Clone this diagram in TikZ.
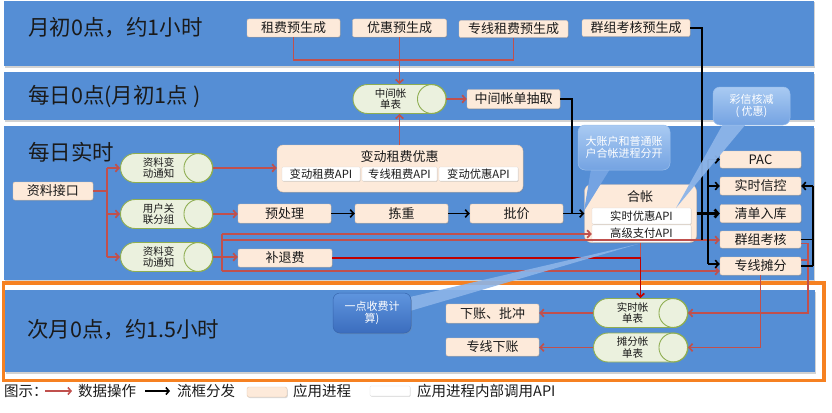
\documentclass[tikz,border=0pt]{standalone}
\usepackage{fontspec}
\setmainfont{Noto Sans CJK SC}
\usetikzlibrary{arrows.meta,shapes.misc,shadows}
\definecolor{bandblue}{HTML}{558ED5}
\definecolor{peach}{HTML}{FDEADA}
\definecolor{peachline}{HTML}{E3C6AC}
\definecolor{capfill}{HTML}{EBF1DE}
\definecolor{capline}{HTML}{8FAE52}
\definecolor{redline}{HTML}{C0504D}
\definecolor{darkred}{HTML}{C00000}
\definecolor{orangeb}{HTML}{F68121}
\definecolor{txt}{HTML}{1A1A1A}
\definecolor{cltop}{HTML}{A9CAF2}
\definecolor{clbot}{HTML}{74A3E2}
\definecolor{clline}{HTML}{9CC0EC}
\definecolor{cdtop}{HTML}{5F95DE}
\definecolor{cdbot}{HTML}{3B6DBE}
\definecolor{cdline}{HTML}{3766AE}
\definecolor{ptr}{HTML}{8CB4E8}
\begin{document}
\begin{tikzpicture}[x=1pt,y=-1pt,
  band/.style={fill=bandblue, draw=none, drop shadow={shadow xshift=1.2pt, shadow yshift=-1.5pt, opacity=0.35}},
  bandtitle/.style={anchor=west, font=\fontsize{21.5}{24}\selectfont, text=txt, inner sep=0pt},
  pbox/.style={rectangle, rounded corners=2pt, fill=peach, draw=peachline, line width=0.4pt, inner sep=0pt,
    font=\fontsize{13}{15}\selectfont, text=txt, drop shadow={shadow xshift=0.8pt, shadow yshift=-1pt, opacity=0.3}},
  wbox/.style={rectangle, rounded corners=1pt, fill=white, draw=black!15, line width=0.3pt, inner sep=0pt,
    font=\fontsize{11.3}{13}\selectfont, text=txt, drop shadow={shadow xshift=0.6pt, shadow yshift=-0.8pt, opacity=0.25}},
  dbcap/.style={rounded rectangle, fill=capfill, draw=capline, line width=0.9pt, minimum height=29pt, minimum width=93pt, inner sep=0pt},
  capend/.style={draw=capline, line width=0.9pt},
  captext/.style={align=center, font=\fontsize{10.5}{11.5}\selectfont, text=txt, inner sep=0pt},
  subtitle/.style={font=\fontsize{13}{15}\selectfont, text=txt, inner sep=0pt},
  rl/.style={draw=redline, line width=1.7pt},
  ra/.style={rl, -{Straight Barb[length=3.5pt,width=7.5pt]}},
  dra/.style={draw=darkred, line width=1.7pt, -{Straight Barb[length=3.5pt,width=7.5pt]}},
  bl/.style={draw=black, line width=1.3pt},
  ba/.style={draw=black, line width=1.6pt, -{Straight Barb[length=3.5pt,width=7.5pt]}},
  callout/.style={rectangle, rounded corners=7pt, top color=cltop, bottom color=clbot, draw=clline, line width=0.5pt,
    text=white, align=center, font=\fontsize{11}{12.5}\selectfont, inner sep=0pt},
  calloutdark/.style={rectangle, rounded corners=7pt, top color=cdtop, bottom color=cdbot, draw=cdline, line width=0.5pt,
    text=white, align=center, font=\fontsize{11}{12.5}\selectfont, inner sep=0pt, drop shadow={shadow xshift=0.8pt, shadow yshift=-1pt, opacity=0.3}},
  legtext/.style={anchor=west, font=\fontsize{14.5}{16}\selectfont, text=txt, inner sep=0pt}
]
\useasboundingbox (0,0) rectangle (832,412);
\fill[white] (0,0) rectangle (832,412);

% bands
\fill[band] (4,1) rectangle (814,66);
\fill[band] (4,72) rectangle (814,120);
\fill[band] (4,126) rectangle (814,280);
\fill[band] (5,290) rectangle (815,372);
\draw[orangeb, line width=3.5pt] (3.5,283) rectangle (824,380.5);

\node[bandtitle] (t1) at (28,28) {月初0点，约1小时};
\node[bandtitle] (t2) at (28,97) {每日0点(月初1点 )};
\node[bandtitle] (t3) at (28,152) {每日实时};
\node[bandtitle] (t4) at (27,330) {次月0点，约1.5小时};

% band 1
\node[pbox, minimum width=93pt, minimum height=18pt] (zf) at (293.5,28) {租费预生成};
\node[pbox, minimum width=94pt, minimum height=18pt] (yh) at (399.5,28) {优惠预生成};
\node[pbox, minimum width=109pt, minimum height=17pt] (zx) at (513.5,29) {专线租费预生成};
\node[pbox, minimum width=108pt, minimum height=17pt] (qz) at (636,28) {群组考核预生成};

% band 2
\node[dbcap] (zj) at (399.5,99) {};
\draw[capend] ([xshift=-14.5pt]zj.east) circle[radius=14.5pt];
\node[captext] (zjt) at ([xshift=-9pt]zj.center) {中间帐\\单表};
\node[pbox, minimum width=93pt, minimum height=19pt] (zq) at (513.5,99) {中间帐单抽取};

% band 3 left
\node[pbox, minimum width=80pt, minimum height=18pt] (zl) at (53,191) {资料接口};
\node[dbcap, minimum width=92pt] (c1) at (166.5,168) {};
\draw[capend] ([xshift=-14.5pt]c1.east) circle[radius=14.5pt];
\node[captext] (c1t) at ([xshift=-8pt]c1.center) {资料变\\动通知};
\node[dbcap, minimum width=92pt] (c2) at (166.5,214) {};
\draw[capend] ([xshift=-14.5pt]c2.east) circle[radius=14.5pt];
\node[captext] (c2t) at ([xshift=-8pt]c2.center) {用户关\\联分组};
\node[dbcap, minimum width=92pt] (c3) at (166.5,257) {};
\draw[capend] ([xshift=-14.5pt]c3.east) circle[radius=14.5pt];
\node[captext] (c3t) at ([xshift=-8pt]c3.center) {资料变\\动通知};

\node[pbox, rounded corners=6pt, minimum width=246pt, minimum height=47pt] (bd) at (400,168.5) {};
\node[subtitle] (bdt) at (399.5,157) {变动租费优惠};
\node[wbox, minimum width=78pt, minimum height=14pt] (a1) at (321,174) {变动租费API};
\node[wbox, minimum width=75pt, minimum height=14pt] (a2) at (399.5,174) {专线租费API};
\node[wbox, minimum width=79pt, minimum height=14pt] (a3) at (478.5,174) {变动优惠API};

\node[pbox, minimum width=93pt, minimum height=19pt] (yc) at (284.5,213.5) {预处理};
\node[pbox, minimum width=93pt, minimum height=19pt] (jz) at (401.5,213.5) {拣重};
\node[pbox, minimum width=93pt, minimum height=19pt] (pj) at (516.5,213.5) {批价};
\node[pbox, minimum width=94pt, minimum height=18pt] (bt) at (285,258) {补退费};

\node[pbox, rounded corners=7pt, minimum width=112pt, minimum height=58pt] (hz) at (640.5,213.5) {};
\node[subtitle] (hzt) at (640,197) {合帐};
\node[wbox, minimum width=99pt, minimum height=16pt] (h1) at (641.5,216) {实时优惠API};
\node[wbox, minimum width=99pt, minimum height=17pt] (h2) at (641.5,233.5) {高级支付API};

% band 3 right
\node[pbox, minimum width=81pt, minimum height=17pt] (pac) at (760.5,159.5) {PAC};
\node[pbox, minimum width=81pt, minimum height=18pt] (sx) at (760.5,186) {实时信控};
\node[pbox, minimum width=81pt, minimum height=18pt] (qd) at (760.5,213.5) {清单入库};
\node[pbox, minimum width=81pt, minimum height=17pt] (qk) at (760.5,239.5) {群组考核};
\node[pbox, minimum width=81pt, minimum height=18pt] (zt) at (760.5,266) {专线摊分};

% band 4
\node[dbcap, minimum width=94pt] (ss) at (640.5,313) {};
\draw[capend] ([xshift=-14.5pt]ss.east) circle[radius=14.5pt];
\node[captext] (sst) at ([xshift=-8pt]ss.center) {实时帐\\单表};
\node[dbcap, minimum width=94pt] (tf) at (640.5,347.5) {};
\draw[capend] ([xshift=-14.5pt]tf.east) circle[radius=14.5pt];
\node[captext] (tft) at ([xshift=-8pt]tf.center) {摊分帐\\单表};
\node[pbox, minimum width=93pt, minimum height=19pt] (xz) at (492.5,313.5) {下账、批冲};
\node[pbox, minimum width=93pt, minimum height=18pt] (zd) at (492.5,347) {专线下账};

% junction coordinates
\coordinate (m1) at (0,60);
\coordinate (j2) at (107,0);
\coordinate (j3) at (572,0);
\coordinate (k) at (702,0);
\coordinate (r1) at (222,234);
\coordinate (r2) at (222,240);
\coordinate (r3) at (222,271);
\coordinate (v1) at (708,0);
\coordinate (v2) at (813,0);
\coordinate (v3) at (808,0);
\coordinate (y264) at (0,264);

% red connectors
\draw[rl] (zf.south) |- (zx.south |- m1) -- (zx.south);
\draw[ra] (yh.south) -- (yh.south |- zj.north);
\draw[ra] (zj.south |- bd.north) -- (zj.south);
\draw[ra] (zj.east) -- (zj.east -| zq.west);
\draw[rl] (zl.east) -- (zl.east -| j2);
\draw[rl] (j2 |- c1.west) -- (j2 |- c3.west);
\draw[ra] (j2 |- c1.west) -- (c1.west);
\draw[ra] (j2 |- c2.west) -- (c2.west);
\draw[ra] (j2 |- c3.west) -- (c3.west);
\draw[ra] (c1.east) -- (c1.east -| bd.west);
\draw[ra] (c2.east) -- (c2.east -| yc.west);
\draw[ra] (c3.east) -- (c3.east -| bt.west);
\draw[rl] (r1) -- (r3);
\draw[ra] (r1) -- (r1 -| h2.west);
\draw[ra] (r2) -- (r2 -| qk.west);
\draw[ra] (r3) -- (r3 -| zt.west);
\draw[rl] (hz.south) -- (hz.south |- bt.east);
\draw[dra] (bt.east) -| (ss.north);
\draw[ra] ([yshift=-4pt]qk.east) -| (v3 |- ss.east) -- (ss.east);
\draw[rl] ([yshift=6pt]zt.east) -- ([yshift=6pt]zt.east -| v3);
\draw[ra] (zt.south) |- (tf.east);
\draw[ra] (ss.west) -- (ss.west -| xz.east);
\draw[ra] (tf.west) -- (tf.west -| zd.east);

% black connectors
\draw[bl] (qz.east) -| (k |- r2);
\draw[bl] (zq.east) -| (j3 |- pj.east);
\draw[ba] (yc.east) -- (jz.west);
\draw[ba] (jz.east) -- (pj.west);
\draw[ba] (pj.east) -- (pj.east -| hz.west);
\draw[draw=black, line width=2.6pt, -{Straight Barb[length=3.5pt,width=8pt]}] (hz.east) -- (hz.east -| qd.west);
\draw[bl] (v1 |- pac.west) -- (v1 |- y264);
\draw[ba] (v1 |- pac.west) -- (pac.west);
\draw[ba] (v1 |- sx.west) -- (sx.west);
\draw[ba] (v1 |- y264) -- ([yshift=2pt]zt.west);
\draw[bl] (qk.east) -- (qk.east -| v2);
\draw[bl] (zt.east) -- (zt.east -| v2);
\draw[bl] (v2 |- sx.east) -- (v2 |- zt.east);
\draw[ba] (v2 |- sx.east) -- (sx.east);

% callouts
\fill[clbot] (591,169) -- (584,211) -- (610,169) -- cycle;
\node[callout, minimum width=92pt, minimum height=45pt] (cb1) at (624,147.5) {大账户和普通账\\户合帐进程分开};
\fill[ptr, opacity=0.95] (723,124) -- (676,208) -- (746,124) -- cycle;
\node[callout, minimum width=77pt, minimum height=38pt] (cb2) at (751.5,106) {彩信核减\\( 优惠)};
\fill[ptr, opacity=0.9] (410,297) -- (638,244) -- (410,311) -- cycle;
\node[calloutdark, minimum width=78pt, minimum height=40pt] (cb3) at (372,313) {一点收费计\\算)};

% legend
\node[legtext] (lg0) at (4,391) {图示：};
\coordinate (la1) at (45,391);
\coordinate (la2) at (72,391);
\draw[draw=redline, line width=1.6pt, -{Straight Barb[length=3pt,width=7pt]}] (la1) -- (la2);
\node[legtext] (lg1) at (78,391) {数据操作};
\coordinate (lb1) at (145,391);
\coordinate (lb2) at (170,391);
\draw[draw=black, line width=1.6pt, -{Straight Barb[length=3pt,width=7pt]}] (lb1) -- (lb2);
\node[legtext] (lg2) at (177,391) {流框分发};
\node[pbox, minimum width=40pt, minimum height=10pt] (lp) at (267,392) {};
\node[legtext] (lg3) at (293,391) {应用进程};
\node[wbox, minimum width=40pt, minimum height=10pt] (lw) at (390,391) {};
\node[legtext] (lg4) at (417,391) {应用进程内部调用API};
\end{tikzpicture}
\end{document}
